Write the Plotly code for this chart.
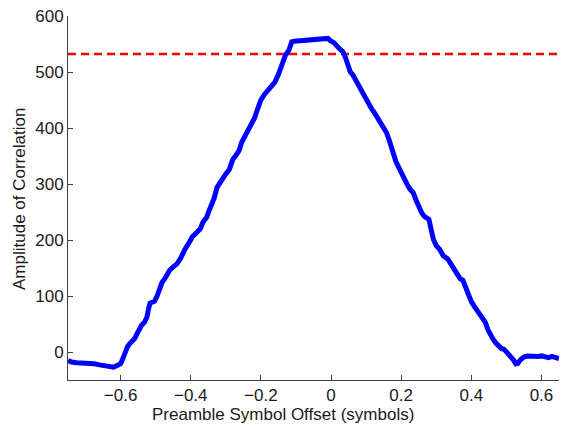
import plotly.graph_objects as go

# ---------------------------------------
# Correlation amplitude vs. preamble offset
# ---------------------------------------
offset = [
    -0.750, -0.740, -0.725, -0.710, -0.700, -0.690, -0.675, -0.660, -0.650, -0.640,
    -0.630, -0.620, -0.610, -0.600, -0.595, -0.590, -0.585, -0.580, -0.575, -0.568,
    -0.560, -0.552, -0.545, -0.540, -0.532, -0.525, -0.520, -0.516, -0.510, -0.503,
    -0.496, -0.490, -0.482, -0.475, -0.467, -0.460, -0.450, -0.440, -0.430, -0.422,
    -0.416, -0.405, -0.395, -0.385, -0.373, -0.365, -0.355, -0.348, -0.340, -0.333,
    -0.325, -0.315, -0.308, -0.300, -0.290, -0.280, -0.270, -0.262, -0.255, -0.248,
    -0.240, -0.232, -0.225, -0.218, -0.210, -0.200, -0.190, -0.180, -0.172, -0.160,
    -0.150, -0.140, -0.130, -0.120, -0.112, -0.105, -0.090, -0.070, -0.048, -0.030,
    -0.015, -0.009, -0.002, 0.009, 0.020, 0.034, 0.040, 0.048, 0.055, 0.062,
    0.070, 0.080, 0.090, 0.098, 0.105, 0.115, 0.124, 0.132, 0.142, 0.150,
    0.158, 0.166, 0.177, 0.185, 0.192, 0.200, 0.210, 0.218, 0.226, 0.234,
    0.242, 0.250, 0.258, 0.266, 0.279, 0.285, 0.292, 0.300, 0.310, 0.320,
    0.333, 0.342, 0.350, 0.360, 0.368, 0.376, 0.385, 0.392, 0.400, 0.410,
    0.420, 0.430, 0.440, 0.447, 0.455, 0.462, 0.470, 0.478, 0.486, 0.493,
    0.500, 0.507, 0.514, 0.520, 0.527, 0.533, 0.540, 0.550, 0.560, 0.570,
    0.580, 0.590, 0.600, 0.610, 0.620, 0.630, 0.640, 0.650,
]
amplitude = [
    -15, -18, -19, -19, -20, -21, -21, -23, -24, -26,
    -28, -27, -24, -21, -14, -5, 3, 10, 14, 18,
    24, 34, 44, 48, 53, 62, 78, 87, 89, 91,
    100, 112, 124, 130, 139, 146, 152, 157, 166, 178,
    184, 195, 206, 212, 220, 232, 240, 252, 262, 275,
    294, 305, 310, 318, 326, 344, 352, 360, 374, 382,
    392, 398, 406, 418, 433, 450, 460, 468, 476, 482,
    496, 513, 530, 539, 554, 555, 556, 557, 559, 560,
    561, 560, 556, 552, 544, 536, 528, 513, 500, 495,
    486, 472, 460, 452, 447, 435, 427, 418, 406, 398,
    392, 378, 352, 340, 331, 320, 308, 298, 290, 285,
    272, 258, 249, 242, 237, 220, 201, 190, 183, 172,
    166, 157, 148, 140, 131, 128, 112, 98, 90, 80,
    72, 62, 53, 40, 28, 23, 16, 10, 6, 5,
    0, -4, -8, -14, -21, -20, -14, -9, -7, -8,
    -9, -8, -7, -9, -10, -8, -11, -12,
]

# detection threshold (red dashed line)
threshold = 532
x_range = [-0.75, 0.65]

fig = go.Figure()
fig.add_trace(go.Scatter(
    x=x_range, y=[threshold, threshold], mode="lines",
    line=dict(color="#ff0000", width=2.5, dash="8px,5px"),
    hoverinfo="skip",
))
fig.add_trace(go.Scatter(
    x=offset, y=amplitude, mode="lines",
    line=dict(color="#0000ff", width=5),
))

font_family = "Liberation Sans, Arial, sans-serif"
axis_style = dict(
    showgrid=False, zeroline=False, showline=True, linecolor="#404040", linewidth=1,
    ticks="inside", ticklen=5, tickcolor="#404040",
    tickfont=dict(family=font_family, size=17, color="#1a1a1a"),
)
fig.update_xaxes(range=x_range, tickvals=[-0.6, -0.4, -0.2, 0, 0.2, 0.4, 0.6],
                 ticktext=["\u22120.6", "\u22120.4", "\u22120.2", "0", "0.2", "0.4", "0.6"],
                 **axis_style)
fig.update_yaxes(range=[-50, 600], tickvals=[0, 100, 200, 300, 400, 500, 600], **axis_style)

W, H = 562, 426
ml, mr, mt, mb = 68, 3, 16, 46
pw, ph = W - ml - mr, H - mt - mb

def to_paper(px, py):
    # pixel position in the picture -> paper coordinates
    return (px - ml) / pw, (H - mb - py) / ph

title_font = dict(family=font_family, size=17, color="#1a1a1a")
xt_x, xt_y = to_paper(283, 414)
yt_x, yt_y = to_paper(19, 199)
fig.update_layout(
    width=W, height=H,
    margin=dict(l=ml, r=mr, t=mt, b=mb),
    plot_bgcolor="white", paper_bgcolor="white",
    showlegend=False,
    annotations=[
        dict(text="Preamble Symbol Offset (symbols)", x=xt_x, y=xt_y, xref="paper", yref="paper",
             xanchor="center", yanchor="middle", showarrow=False, font=title_font),
        dict(text="Amplitude of Correlation", x=yt_x, y=yt_y, xref="paper", yref="paper",
             xanchor="center", yanchor="middle", showarrow=False, textangle=-90, font=title_font),
    ],
)

# drop the default 8px body margin so the figure fills the window exactly
fig.write_html("out.html", config={"displayModeBar": False},
               post_script="document.body.style.margin='0';")
